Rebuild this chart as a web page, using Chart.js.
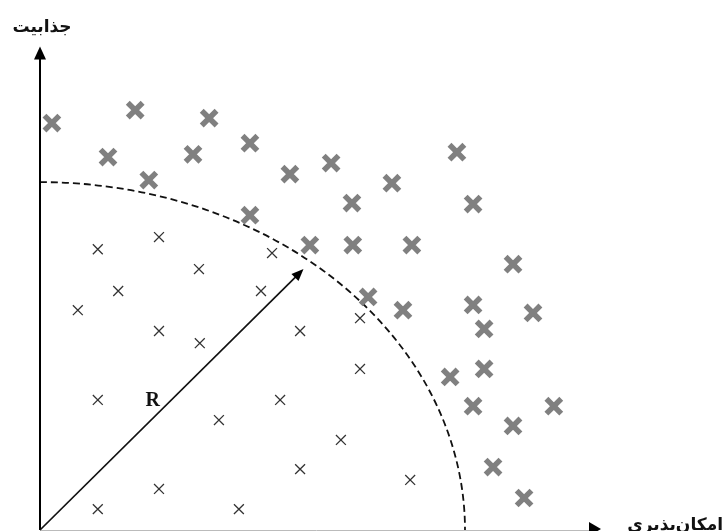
<!DOCTYPE html>
<html lang="fa">
<head>
  <meta charset="UTF-8">
  <title>جذابیت / امکان‌پذیری</title>
  <script src="https://cdn.jsdelivr.net/npm/chart.js"></script>
  <style>
    html, body { margin: 0; padding: 0; background: #fff; overflow: hidden; }
    .chart-container { width: 724px; height: 531px; position: relative; overflow: hidden; }
    canvas { display: block; }
  </style>
</head>
<body>
  <div class="chart-container">
    <canvas id="myChart" width="724" height="531"></canvas>
  </div>
  <script>
    // axis titles
    const yTitle = 'جذابیت';
    const xTitle = 'امکان‌پذیری';
    const radiusLabel = 'R';

    // radius of the dashed boundary and the tip of the R arrow (data units)
    const R = 10;
    const arrowTip = [6.2, 7.5];
    const xAxisEnd = 13.2;
    const yAxisEnd = 13.9;

    // large grey crosses (outside the boundary)
    const bigX = [0.28, 2.24, 3.98, 1.60, 3.60, 4.94, 2.56, 5.88, 6.85, 7.34, 4.94, 6.35, 7.36, 9.81, 8.28,
                  10.19, 8.75, 11.13, 7.72, 8.54, 10.19, 11.60, 10.45, 9.65, 10.45, 10.19, 12.09, 11.13, 10.66, 11.39];
    const bigY = [11.70, 12.07, 11.84, 10.72, 10.80, 11.12, 10.06, 10.23, 10.55, 9.40, 9.05, 8.19, 8.19, 10.86, 9.97,
                  9.37, 8.19, 7.64, 6.70, 6.32, 6.47, 6.24, 5.78, 4.40, 4.63, 3.56, 3.56, 2.99, 1.81, 0.92];

    // small dark crosses (inside the boundary)
    const smallX = [1.36, 2.80, 5.46, 3.74, 1.84, 0.89, 5.20, 2.80, 3.76, 6.12, 7.53, 1.36, 5.65, 7.53, 4.21,
                    7.08, 6.12, 8.71, 2.80, 1.36, 4.68];
    const smallY = [8.07, 8.42, 7.96, 7.50, 6.87, 6.32, 6.87, 5.72, 5.37, 5.72, 6.09, 3.74, 3.74, 4.63, 3.16,
                    2.59, 1.75, 1.44, 1.18, 0.60, 0.60];

    const toPoints = (xs, ys) => xs.map((x, i) => ({ x: x, y: ys[i] }));

    // axes with arrows, dashed quarter circle, R arrow and labels
    const sketchPlugin = {
      id: 'sketch',
      beforeDatasetsDraw(chart) {
        const ctx = chart.ctx;
        const xs = chart.scales.x, ys = chart.scales.y;
        const ox = xs.getPixelForValue(0), oy = ys.getPixelForValue(0);
        const rx = xs.getPixelForValue(R) - ox, ry = oy - ys.getPixelForValue(R);

        ctx.save();
        // dashed boundary
        ctx.strokeStyle = '#111';
        ctx.lineWidth = 1.8;
        ctx.setLineDash([7, 4]);
        ctx.beginPath();
        ctx.ellipse(ox, oy, rx, ry, 0, -Math.PI / 2, 0);
        ctx.stroke();
        ctx.setLineDash([]);

        // y axis
        const yTop = ys.getPixelForValue(yAxisEnd);
        ctx.strokeStyle = '#000';
        ctx.fillStyle = '#000';
        ctx.lineWidth = 2;
        ctx.beginPath();
        ctx.moveTo(ox, oy);
        ctx.lineTo(ox, yTop + 8);
        ctx.stroke();
        ctx.beginPath();
        ctx.moveTo(ox, yTop);
        ctx.lineTo(ox - 6, yTop + 13);
        ctx.lineTo(ox + 6, yTop + 13);
        ctx.closePath();
        ctx.fill();

        // x axis
        const xRight = xs.getPixelForValue(xAxisEnd);
        ctx.strokeStyle = '#bbb';
        ctx.lineWidth = 1;
        ctx.beginPath();
        ctx.moveTo(ox, oy + 0.5);
        ctx.lineTo(xRight - 8, oy + 0.5);
        ctx.stroke();
        ctx.fillStyle = '#000';
        ctx.beginPath();
        ctx.moveTo(xRight, oy - 1);
        ctx.lineTo(xRight - 12, oy - 8);
        ctx.lineTo(xRight - 12, oy + 6);
        ctx.closePath();
        ctx.fill();

        // R arrow
        const tx = xs.getPixelForValue(arrowTip[0]), ty = ys.getPixelForValue(arrowTip[1]);
        const ang = Math.atan2(ty - oy, tx - ox);
        ctx.strokeStyle = '#111';
        ctx.lineWidth = 1.7;
        ctx.beginPath();
        ctx.moveTo(ox, oy);
        ctx.lineTo(tx - 6 * Math.cos(ang), ty - 6 * Math.sin(ang));
        ctx.stroke();
        ctx.fillStyle = '#000';
        ctx.beginPath();
        ctx.moveTo(tx, ty);
        ctx.lineTo(tx - 12 * Math.cos(ang) + 5 * Math.sin(ang), ty - 12 * Math.sin(ang) - 5 * Math.cos(ang));
        ctx.lineTo(tx - 12 * Math.cos(ang) - 5 * Math.sin(ang), ty - 12 * Math.sin(ang) + 5 * Math.cos(ang));
        ctx.closePath();
        ctx.fill();

        // labels
        ctx.fillStyle = '#111';
        ctx.font = 'bold 20px "Liberation Serif", serif';
        ctx.textAlign = 'center';
        ctx.textBaseline = 'middle';
        ctx.fillText(radiusLabel, (ox + tx) / 2 - 19, (oy + ty) / 2 + 1);

        ctx.font = 'bold 17px "DejaVu Sans", sans-serif';
        ctx.fillText(yTitle, ox + 2, yTop - 19);
        ctx.textAlign = 'right';
        ctx.fillText(xTitle, chart.width - 1, oy - 4);
        ctx.restore();
      }
    };

    const ctx = document.getElementById('myChart').getContext('2d');
    const myChart = new Chart(ctx, {
      type: 'scatter',
      data: {
        datasets: [
          {
            label: 'big',
            data: toPoints(bigX, bigY),
            pointStyle: 'crossRot',
            pointRadius: 10.5,
            pointHoverRadius: 10.5,
            borderWidth: 5.5,
            borderColor: '#808080',
            clip: false
          },
          {
            label: 'small',
            data: toPoints(smallX, smallY),
            pointStyle: 'crossRot',
            pointRadius: 7,
            pointHoverRadius: 7,
            borderWidth: 1.3,
            borderColor: '#333',
            clip: false
          }
        ]
      },
      options: {
        responsive: false,
        devicePixelRatio: 1,
        animation: false,
        layout: { autoPadding: false, padding: { left: 40, right: 4, top: 43, bottom: 1 } },
        scales: {
          x: { type: 'linear', min: 0, max: 16, display: false },
          y: { type: 'linear', min: 0, max: 14, display: false }
        },
        plugins: {
          legend: { display: false },
          tooltip: { enabled: false }
        }
      },
      plugins: [sketchPlugin]
    });
  </script>
</body>
</html>
